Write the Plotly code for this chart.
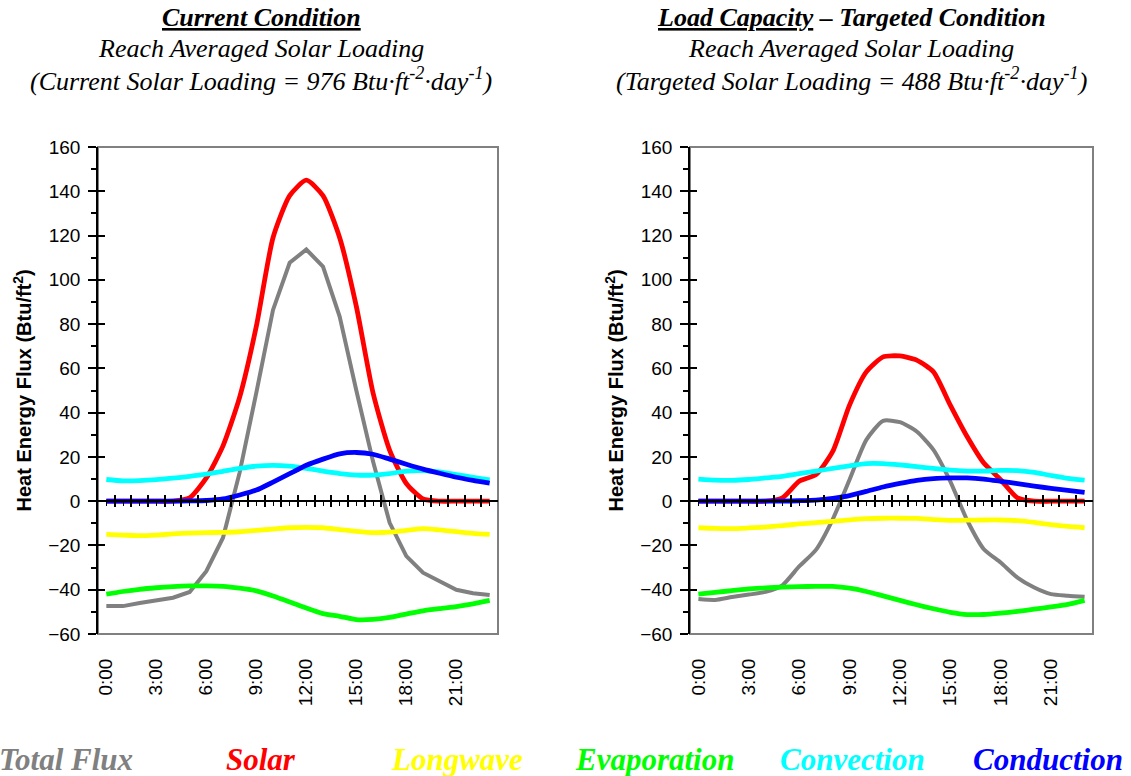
import plotly.graph_objects as go

# ---------------- data ----------------
hours = list(range(24))
tick_hours = [0, 3, 6, 9, 12, 15, 18, 21]
tick_labels = ["0:00", "3:00", "6:00", "9:00", "12:00", "15:00", "18:00", "21:00"]

series_names = ["Total Flux", "Solar", "Longwave", "Evaporation", "Convection", "Conduction"]
series_colors = ["#808080", "#FF0000", "#FFFF00", "#00FF00", "#00FFFF", "#0000FF"]

# Current condition
cur_total = [-47.4, -47.4, -46.0, -45.0, -43.6, -41.0, -31.6, -16.5, 13.0, 49.0, 86.4, 107.7,
             113.7, 106.0, 83.4, 50.0, 18.0, -9.8, -24.8, -32.3, -36.0, -40.0, -41.6, -42.4]
cur_solar = [0, 0, 0, 0, 0, 1.5, 10.5, 25.0, 47.0, 79.0, 119.0, 138.0,
             145.0, 138.0, 119.0, 88.0, 49.0, 23.0, 8.0, 1.0, 0, 0, 0, 0]
cur_longwave = [-15.0, -15.3, -15.6, -15.3, -14.8, -14.4, -14.2, -14.1, -13.8, -13.2, -12.6, -12.0,
                -11.8, -12.0, -12.8, -13.6, -14.2, -14.0, -13.2, -12.4, -13.0, -13.8, -14.5, -15.0]
cur_evap = [-42.0, -40.8, -39.8, -39.1, -38.6, -38.3, -38.3, -38.5, -39.3, -40.5, -42.8, -45.5,
            -48.3, -50.8, -52.0, -53.5, -53.4, -52.5, -51.0, -49.5, -48.5, -47.6, -46.4, -44.8]
cur_conv = [9.8, 9.2, 9.3, 9.7, 10.4, 11.2, 12.2, 13.5, 14.8, 15.8, 16.2, 15.8,
            14.8, 13.6, 12.5, 11.8, 11.8, 12.5, 13.6, 13.8, 13.2, 12.0, 10.8, 9.6]
cur_cond = [0, 0, 0, 0, 0, 0.1, 0.3, 1.0, 2.8, 5.0, 8.6, 12.4,
            16.2, 19.0, 21.4, 22.0, 21.2, 19.0, 16.7, 14.5, 12.6, 10.8, 9.4, 8.2]

# Targeted condition
tgt_total = [-44.2, -44.6, -43.3, -42.2, -41.0, -38.0, -29.5, -22.0, -8.2, 9.7, 27.7, 36.3,
             35.7, 31.5, 23.2, 9.0, -8.5, -21.7, -27.7, -34.5, -39.0, -42.0, -42.7, -43.2]
tgt_solar = [0, 0, 0, 0, 0, 1.5, 9.0, 12.0, 22.5, 43.4, 58.4, 65.2,
             65.6, 63.7, 58.4, 43.4, 29.2, 17.2, 9.7, 1.5, 0, 0, 0, 0]
tgt_longwave = [-12.0, -12.3, -12.4, -12.1, -11.7, -11.0, -10.3, -9.7, -9.1, -8.4, -7.9, -7.7,
                -7.7, -7.8, -8.3, -8.7, -8.6, -8.5, -8.5, -8.8, -9.6, -10.6, -11.4, -12.0]
tgt_evap = [-42.0, -41.2, -40.4, -39.6, -39.2, -38.8, -38.6, -38.5, -38.5, -39.3, -40.8, -42.8,
            -44.8, -46.8, -48.6, -50.2, -51.2, -51.2, -50.6, -49.8, -48.8, -47.8, -46.6, -44.8]
tgt_conv = [10.0, 9.5, 9.4, 9.8, 10.5, 11.2, 12.4, 13.6, 14.8, 16.0, 17.0, 17.0,
            16.4, 15.6, 14.8, 14.0, 13.6, 13.6, 13.9, 13.8, 13.0, 11.6, 10.3, 9.5]
tgt_cond = [0, 0, 0, 0, 0, 0, 0.2, 0.5, 1.3, 2.5, 4.4, 6.4,
            8.0, 9.4, 10.2, 10.5, 10.5, 10.0, 9.0, 7.9, 6.8, 5.8, 4.9, 4.0]

current = [cur_total, cur_solar, cur_longwave, cur_evap, cur_conv, cur_cond]
targeted = [tgt_total, tgt_solar, tgt_longwave, tgt_evap, tgt_conv, tgt_cond]

left_title = ["<b><i><u>Current Condition</u></i></b>",
              "<i>Reach Averaged Solar Loading</i>",
              "<i>(Current Solar Loading = 976 Btu·ft<sup>-2</sup>·day<sup>-1</sup>)</i>"]
right_title = ["<b><i><u>Load Capacity</u> – Targeted Condition</i></b>",
               "<i>Reach Averaged Solar Loading</i>",
               "<i>(Targeted Solar Loading = 488 Btu·ft<sup>-2</sup>·day<sup>-1</sup>)</i>"]
y_title = "<b>Heat Energy Flux (Btu/ft<sup>2</sup>)</b>"

# ---------------- figure ----------------
SANS = "Liberation Sans, Arial, sans-serif"
SERIF = "Liberation Serif, Times New Roman, serif"
fig = go.Figure()

for panel, (data, xa, ya) in enumerate([(current, "x", "y"), (targeted, "x2", "y2")]):
    for i, (name, color, vals) in enumerate(zip(series_names, series_colors, data)):
        shape = "linear" if (i == 0 and panel == 0) else "spline"
        fig.add_trace(go.Scatter(
            x=hours, y=vals, name=name, mode="lines",
            line=dict(color=color, width=4 if i == 0 else 4.8, shape=shape, smoothing=0.6),
            xaxis=xa, yaxis=ya, showlegend=False, hoverinfo="skip"))

# empty helper traces so that the overlay (tick-only) axes get drawn
for xa, ya in [("x3", "y"), ("x4", "y"), ("x5", "y2"), ("x6", "y2"), ("x", "y3"), ("x2", "y4")]:
    fig.add_trace(go.Scatter(x=[None], y=[None], xaxis=xa, yaxis=ya, mode="lines",
                             showlegend=False, hoverinfo="skip"))

W, H = 1131, 776
ml, mr, mt, mb = 98, 38, 147, 142
pw = W - ml - mr
dom_left = [0, 400 / pw]
dom_right = [(690 - ml) / pw, 1.0]
zero_pos = 60 / 220

xr = [-0.5, 23.5]
yr = [-60, 160]
TICKFONT = dict(family=SANS, size=19, color="black")

def data_x(domain, anchor):
    return dict(domain=domain, anchor=anchor, range=xr, tickmode="array",
                tickvals=tick_hours, ticktext=tick_labels, tickangle=-90,
                ticks="outside", ticklen=10, tickcolor="rgba(0,0,0,0)",
                ticklabelstandoff=6,
                showline=False, showgrid=False, zeroline=False, tickfont=TICKFONT)

def data_y(anchor):
    return dict(domain=[0, 1], anchor=anchor, range=yr, dtick=20, tick0=0,
                ticks="outside", ticklen=8, tickwidth=1.5, tickcolor="black",
                ticklabelstandoff=4,
                minor=dict(ticks="outside", ticklen=5, dtick=10, tickcolor="black", tickwidth=1.5),
                showline=True, linecolor="black", linewidth=1.5,
                showgrid=False, zeroline=False, tickfont=TICKFONT)

def inner_y(over, anchor):
    return dict(domain=[0, 1], overlaying=over, anchor=anchor, side="left", range=yr,
                dtick=20, tick0=0, ticks="inside", ticklen=7, tickwidth=1.5,
                tickcolor="black", showticklabels=False, showline=False,
                showgrid=False, zeroline=False)

def zero_axis(domain, over, side_ticks, with_minor):
    d = dict(domain=domain, overlaying=over, anchor="free", position=zero_pos,
             range=xr, tickmode="array",
             tickvals=[h + 0.5 for h in hours[:-1]], showticklabels=False,
             ticks=side_ticks, ticklen=5, tickwidth=1.5, tickcolor="black",
             showline=True, linecolor="black", linewidth=1.5,
             showgrid=False, zeroline=False)
    if with_minor:
        d["minor"] = dict(ticks="outside", ticklen=4, tickvals=hours,
                          tickcolor="black", tickwidth=1.2)
    return d

fig.update_layout(
    width=W, height=H,
    margin=dict(l=ml, r=mr, t=mt, b=mb),
    paper_bgcolor="white", plot_bgcolor="white",
    xaxis=data_x(dom_left, "y"),
    yaxis=data_y("x"),
    xaxis2=data_x(dom_right, "y2"),
    yaxis2=data_y("x2"),
    yaxis3=inner_y("y", "x"),
    yaxis4=inner_y("y2", "x2"),
    xaxis3=zero_axis(dom_left, "x", "outside", True),
    xaxis4=zero_axis(dom_left, "x", "inside", False),
    xaxis5=zero_axis(dom_right, "x2", "outside", True),
    xaxis6=zero_axis(dom_right, "x2", "inside", False),
)

shapes = []
for xd, yd in [("x domain", "y domain"), ("x2 domain", "y2 domain")]:
    shapes.append(dict(type="rect", xref=xd, yref=yd, x0=0, x1=1, y0=0, y1=1,
                       line=dict(color="#808080", width=2), layer="below"))
fig.update_layout(shapes=shapes)

ann = []
line_y = [1.265, 1.203, 1.1376]
for cx, lines in [((261 - ml) / pw, left_title), ((851 - ml) / pw, right_title)]:
    for k, (txt, yy) in enumerate(zip(lines, line_y)):
        ann.append(dict(text=txt, x=cx, y=yy, xref="paper", yref="paper",
                        xanchor="center", yanchor="middle", showarrow=False,
                        font=dict(family=SERIF, size=26, color="black")))

for xd, yd, xv in [("x domain", "y domain", (22 - 98) / 400), ("x2 domain", "y2 domain", (614 - 690) / 403)]:
    ann.append(dict(text=y_title, x=xv, y=0.5, xref=xd, yref=yd, textangle=-90,
                    xanchor="center", yanchor="middle", showarrow=False,
                    font=dict(family=SANS, size=20, color="black")))

legend_px = [66, 261, 457, 654, 852, 1048]
for name, color, px in zip(series_names, series_colors, legend_px):
    ann.append(dict(text="<b><i>" + name + "</i></b>", x=(px - ml) / pw, y=(634 - 759) / 487,
                    xref="paper", yref="paper", xanchor="center", yanchor="middle",
                    showarrow=False, font=dict(family=SERIF, size=31, color=color)))
fig.update_layout(annotations=ann)

fig.write_html("out.html", config={"displayModeBar": False},
               post_script="document.body.style.margin='0px';")
